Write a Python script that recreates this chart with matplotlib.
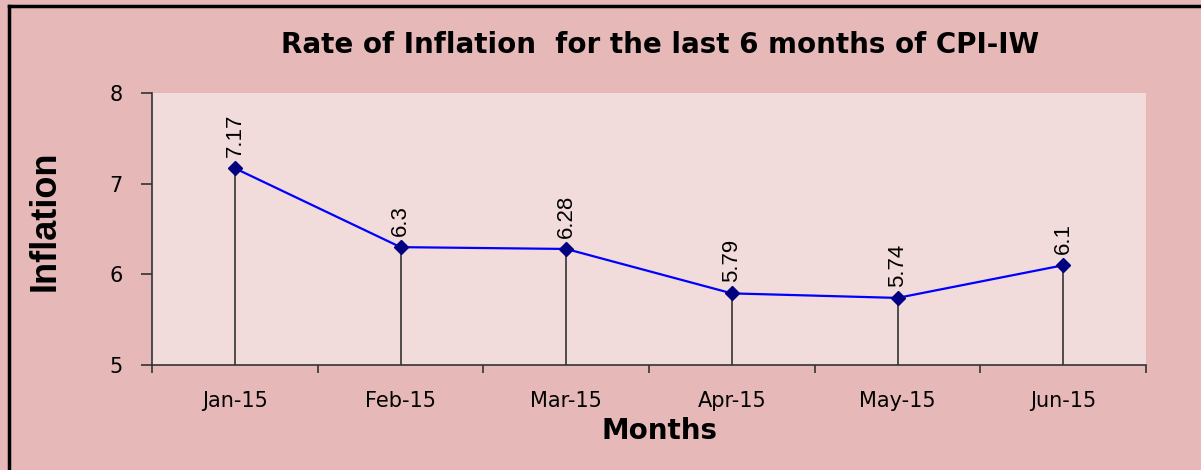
import matplotlib.pyplot as plt
from matplotlib.lines import Line2D

months = ['Jan-15', 'Feb-15', 'Mar-15', 'Apr-15', 'May-15', 'Jun-15']
inflation = [7.17, 6.3, 6.28, 5.79, 5.74, 6.1]
y_ticks = [5, 6, 7, 8]

plt.rcParams['font.family'] = ['DejaVu Sans']
narrow = ['Liberation Sans', 'DejaVu Sans']

fig = plt.figure(figsize=(12.01, 4.70), dpi=100, facecolor='#E6B8B7')
ax = fig.add_axes([0.1266, 0.2234, 0.8276, 0.5787])
ax.set_facecolor('#F2DCDB')

x = list(range(len(months)))
# drop lines from each point to the axis
ax.vlines(x, 5, inflation, colors='#333333', linewidth=1.2, zorder=2)
ax.plot(x, inflation, color='#0000FF', linewidth=1.6, zorder=3)
ax.plot(x, inflation, linestyle='none', marker='D', markersize=7,
        color='#000080', zorder=4)

for xi, v in zip(x, inflation):
    ax.annotate(f'{v:g}', (xi, v), xytext=(0, 8), textcoords='offset points',
                rotation=90, ha='center', va='bottom', fontsize=16,
                family=narrow)

ax.set_xlim(-0.5, len(months) - 0.5)
ax.set_ylim(5, 8)
ax.set_yticks(y_ticks)
ax.set_yticklabels([str(t) for t in y_ticks], fontsize=15)
ax.set_xticks(x)
ax.set_xticklabels(months, fontsize=15)
ax.tick_params(axis='x', length=0, pad=19)
ax.set_xticks([i - 0.5 for i in range(len(months) + 1)], minor=True)
ax.tick_params(axis='x', which='minor', length=6, width=1.2, color='#333333')
ax.tick_params(axis='y', length=8, width=1.2, color='#333333', pad=13)

for side in ['top', 'right']:
    ax.spines[side].set_visible(False)
for side in ['left', 'bottom']:
    ax.spines[side].set_color('#333333')
    ax.spines[side].set_linewidth(1.2)

ax.set_xlabel('Months', fontsize=20, fontweight='bold', labelpad=4)
ax.xaxis.label.set_x(0.511)
ax.set_ylabel('Inflation', fontsize=26, fontweight='bold', labelpad=34,
              family=narrow)
ax.yaxis.label.set_y(0.53)

fig.text(0.55, 0.905, 'Rate of Inflation  for the last 6 months of CPI-IW',
         ha='center', va='center', fontsize=20, fontweight='bold')

# black frame on left and top edge
fig.add_artist(Line2D([0.0075, 0.0075], [0, 0.987], color='black', linewidth=2.5,
                      transform=fig.transFigure))
fig.add_artist(Line2D([0.0075, 1], [0.987, 0.987], color='black', linewidth=2.5,
                      transform=fig.transFigure))

fig.savefig('out.png', dpi=100, facecolor=fig.get_facecolor())
